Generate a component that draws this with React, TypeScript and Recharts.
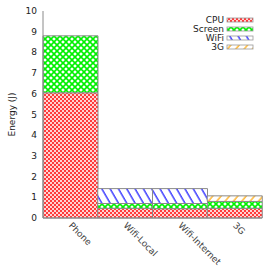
import { BarChart, Bar, XAxis, YAxis } from 'recharts';

const categories = ['Phone', 'Wifi-Local', 'Wifi-Internet', '3G'];
const cpuValues = [6.05, 0.47, 0.45, 0.47];
const screenValues = [2.75, 0.23, 0.25, 0.33];
const wifiValues = [0, 0.72, 0.72, 0];
const g3Values = [0, 0, 0, 0.27];
const yTicks = [0, 1, 2, 3, 4, 5, 6, 7, 8, 9, 10];

const seriesKeys = ['cpu', 'screen', 'wifi', 'g3'];
const seriesNames = ['CPU', 'Screen', 'WiFi', '3G'];

const data = categories.map((name, i) => ({
  name,
  cpu: cpuValues[i],
  screen: screenValues[i],
  wifi: wifiValues[i],
  g3: g3Values[i],
}));

const FONT = '"DejaVu Sans", sans-serif';
const TEXT = '#222';
const BORDER = '#8a8a8a';

function Patterns() {
  return (
    <defs>
      <pattern id="p-cpu" width="4" height="4" patternUnits="userSpaceOnUse">
        <rect width="4" height="4" fill="#ff3c3c" />
        <rect x="0" y="0" width="2" height="2" fill="#ffd4d4" />
        <rect x="2" y="2" width="2" height="2" fill="#ffd4d4" />
      </pattern>
      <pattern id="p-screen" width="6" height="6" patternUnits="userSpaceOnUse">
        <rect width="6" height="6" fill="#fff" />
        <path d="M0,0 L6,6 M6,0 L0,6" stroke="#00f000" strokeWidth="1.6" />
      </pattern>
      <pattern
        id="p-wifi"
        width="7.2"
        height="10"
        patternUnits="userSpaceOnUse"
        patternTransform="rotate(-30)"
      >
        <rect width="7.2" height="10" fill="#fff" />
        <line x1="1" y1="0" x2="1" y2="10" stroke="#1010ff" strokeWidth="1.2" />
      </pattern>
      <pattern
        id="p-g3"
        width="6.4"
        height="10"
        patternUnits="userSpaceOnUse"
        patternTransform="rotate(40)"
      >
        <rect width="6.4" height="10" fill="#fff" />
        <line x1="1" y1="0" x2="1" y2="10" stroke="#ffa500" strokeWidth="1.2" />
      </pattern>
    </defs>
  );
}

function LeftTick({ x, y, payload }: any) {
  return (
    <text x={x - 6} y={y} dy={3} textAnchor="end" fontSize={9} fill={TEXT} fontFamily={FONT}>
      {payload.value}
    </text>
  );
}

function RightTick({ x, y }: any) {
  return <line x1={x} y1={y} x2={x - 4} y2={y} stroke={BORDER} />;
}

function TopTick({ x, y }: any) {
  return <line x1={x} y1={y} x2={x} y2={y + 4} stroke={BORDER} />;
}

function BottomTick({ x, y, payload }: any) {
  return (
    <text
      x={x}
      y={y + 6}
      transform={`rotate(45, ${x}, ${y + 6})`}
      textAnchor="start"
      dy={3}
      fontSize={9}
      fill="#444"
      fontFamily={FONT}
    >
      {payload.value}
    </text>
  );
}

function YLabel({ viewBox }: any) {
  const cx = viewBox.x + 12;
  const cy = viewBox.y + viewBox.height / 2;
  return (
    <text
      x={cx}
      y={cy}
      transform={`rotate(-90, ${cx}, ${cy})`}
      textAnchor="middle"
      dy={3}
      fontSize={9}
      fill={TEXT}
      fontFamily={FONT}
    >
      Energy (J)
    </text>
  );
}

export default function App() {
  return (
    <div style={{ position: 'absolute', left: 0, top: 0, width: 275, height: 275, background: '#fff' }}>
      <BarChart
        width={275}
        height={275}
        data={data}
        margin={{ top: 11, right: 13, bottom: 0, left: 0 }}
        barCategoryGap={0}
        barGap={0}
      >
        <Patterns />
        <XAxis
          dataKey="name"
          height={57}
          tickSize={0}
          tickMargin={0}
          axisLine={{ stroke: BORDER }}
          tick={<BottomTick />}
          interval={0}
        />
        <XAxis
          xAxisId="top"
          dataKey="name"
          orientation="top"
          height={0}
          tickSize={0}
          tickMargin={0}
          axisLine={{ stroke: BORDER }}
          tick={<TopTick />}
          interval={0}
        />
        <YAxis
          width={43}
          domain={[0, 10]}
          ticks={yTicks}
          tickSize={0}
          tickMargin={0}
          axisLine={{ stroke: BORDER }}
          tick={<LeftTick />}
          interval={0}
          label={<YLabel />}
        />
        <YAxis
          yAxisId="right"
          orientation="right"
          width={0}
          domain={[0, 10]}
          allowDataOverflow
          ticks={yTicks}
          tickSize={0}
          tickMargin={0}
          axisLine={{ stroke: BORDER }}
          tick={<RightTick />}
          interval={0}
        />
        {seriesKeys.map((k, i) => (
          <Bar
            key={k}
            dataKey={k}
            name={seriesNames[i]}
            stackId="e"
            fill={`url(#p-${k})`}
            stroke={BORDER}
            strokeWidth={1}
            isAnimationActive={false}
          />
        ))}
      </BarChart>
      <svg
        width={275}
        height={275}
        style={{ position: 'absolute', left: 0, top: 0, pointerEvents: 'none' }}
      >
        {seriesKeys.map((k, i) => (
          <g key={k}>
            <text
              x={224}
              y={20 + i * 9}
              dy={3}
              textAnchor="end"
              fontSize={9}
              fill={TEXT}
              fontFamily={FONT}
            >
              {seriesNames[i]}
            </text>
            <rect
              x={227}
              y={18 + i * 9}
              width={26}
              height={4}
              fill={`url(#p-${k})`}
              stroke="#999"
              strokeWidth={0.8}
            />
          </g>
        ))}
      </svg>
    </div>
  );
}
